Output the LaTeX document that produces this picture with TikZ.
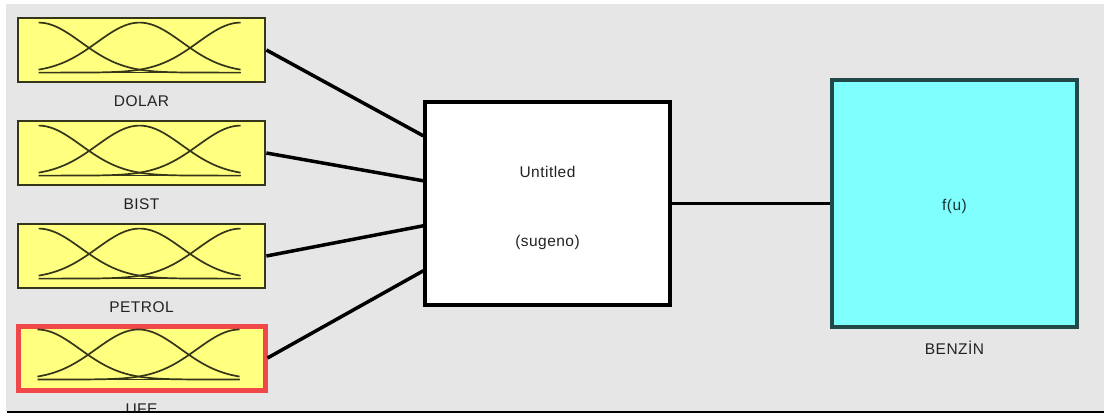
\documentclass[tikz,border=0pt]{standalone}
\usepackage{fontspec}
\setmainfont{Liberation Sans}[LetterSpace=3]
\usetikzlibrary{calc}

\definecolor{panel}{HTML}{E6E6E6}
\definecolor{mfyellow}{HTML}{FFFF80}
\definecolor{mfedge}{HTML}{35351A}
\definecolor{selred}{HTML}{F04848}
\definecolor{outcyan}{HTML}{80FFFF}
\definecolor{outedge}{HTML}{234848}
\definecolor{labeltxt}{HTML}{222222}

\tikzset{
  inbox/.style={draw=mfedge, line width=2.8pt, fill=mfyellow, inner sep=0pt,
                minimum width=247pt, minimum height=64pt},
  selected/.style={draw=selred, line width=5pt},
  fisbox/.style={draw=black, line width=3.2pt, fill=white, inner sep=0pt,
                 minimum width=245pt, minimum height=203pt},
  outbox/.style={draw=outedge, line width=3.2pt, fill=outcyan, inner sep=0pt,
                 minimum width=245pt, minimum height=247pt},
  lbl/.style={text=labeltxt, inner sep=0pt, font=\fontsize{15.5}{18}\selectfont},
  wire/.style={black, line width=3.5pt},
  mf/.style={mfedge, line width=1.7pt},
}

% three Gaussian membership functions inside an input box
\newcommand\mfcurves[1]{%
  \begin{scope}[shift={(#1.north west)}]
    \draw[mf] (22,56) -- (224,56);
    \foreach \c in {22,123,224}
      \draw[mf] plot[domain=22:224, samples=90, smooth]
        (\x, {56-50*exp(-((\x-\c)/60.1)^2)});
  \end{scope}}

\begin{document}
\begin{tikzpicture}[x=1pt, y=-1pt]
  % canvas
  \fill[white] (0,0) rectangle (1104,416);
  \useasboundingbox (0,0) rectangle (1104,416);
  \fill[panel] (6,4) rectangle (1104,412);

  % input variables
  \node[inbox] (dolar)  at (141.5, 50) {};
  \node[inbox] (bist)   at (141.5,153) {};
  \node[inbox] (petrol) at (141.5,256) {};
  \node[inbox, selected] (ufe) at (141.5,358) {};
  \foreach \n in {dolar,bist,petrol,ufe} { \mfcurves{\n} }

  \node[lbl] (ldolar)  at (141.5,101) {DOLAR};
  \node[lbl] (lbist)   at (141.5,204) {BIST};
  \node[lbl] (lpetrol) at (141.5,307) {PETROL};
  \node[lbl] (lufe)    at (141.5,409) {UFE};

  % inference system
  \node[fisbox] (fis) at (547.5,203.5) {};
  \node[lbl] (fname) at (547.5,172) {Untitled};
  \node[lbl] (ftype) at (547.5,242) {(sugeno)};

  % output variable
  \node[outbox] (out) at (954.5,203.5) {};
  \node[lbl, text=outedge!70!black] (fu) at (954.5,206) {f(u)};
  \node[lbl] (lout) at (954.5,348) {BENZİN};

  % input ports on the inference block
  \foreach \n/\i in {dolar/0,bist/1,petrol/2,ufe/3}
    \coordinate (p\n) at ($(fis.north west)!{0.172+0.218*\i}!(fis.south west)$);

  % connectors
  \foreach \n in {dolar,bist,petrol,ufe}
    \draw[wire] (\n.east) -- (p\n);
  \draw[wire] (fis.east) -- (out.west);

  % lower edge of the panel
  \fill[white] (0,413) rectangle (1104,416);
  \draw[black, line width=2.5pt] (7,412) -- (1104,412);
\end{tikzpicture}
\end{document}
